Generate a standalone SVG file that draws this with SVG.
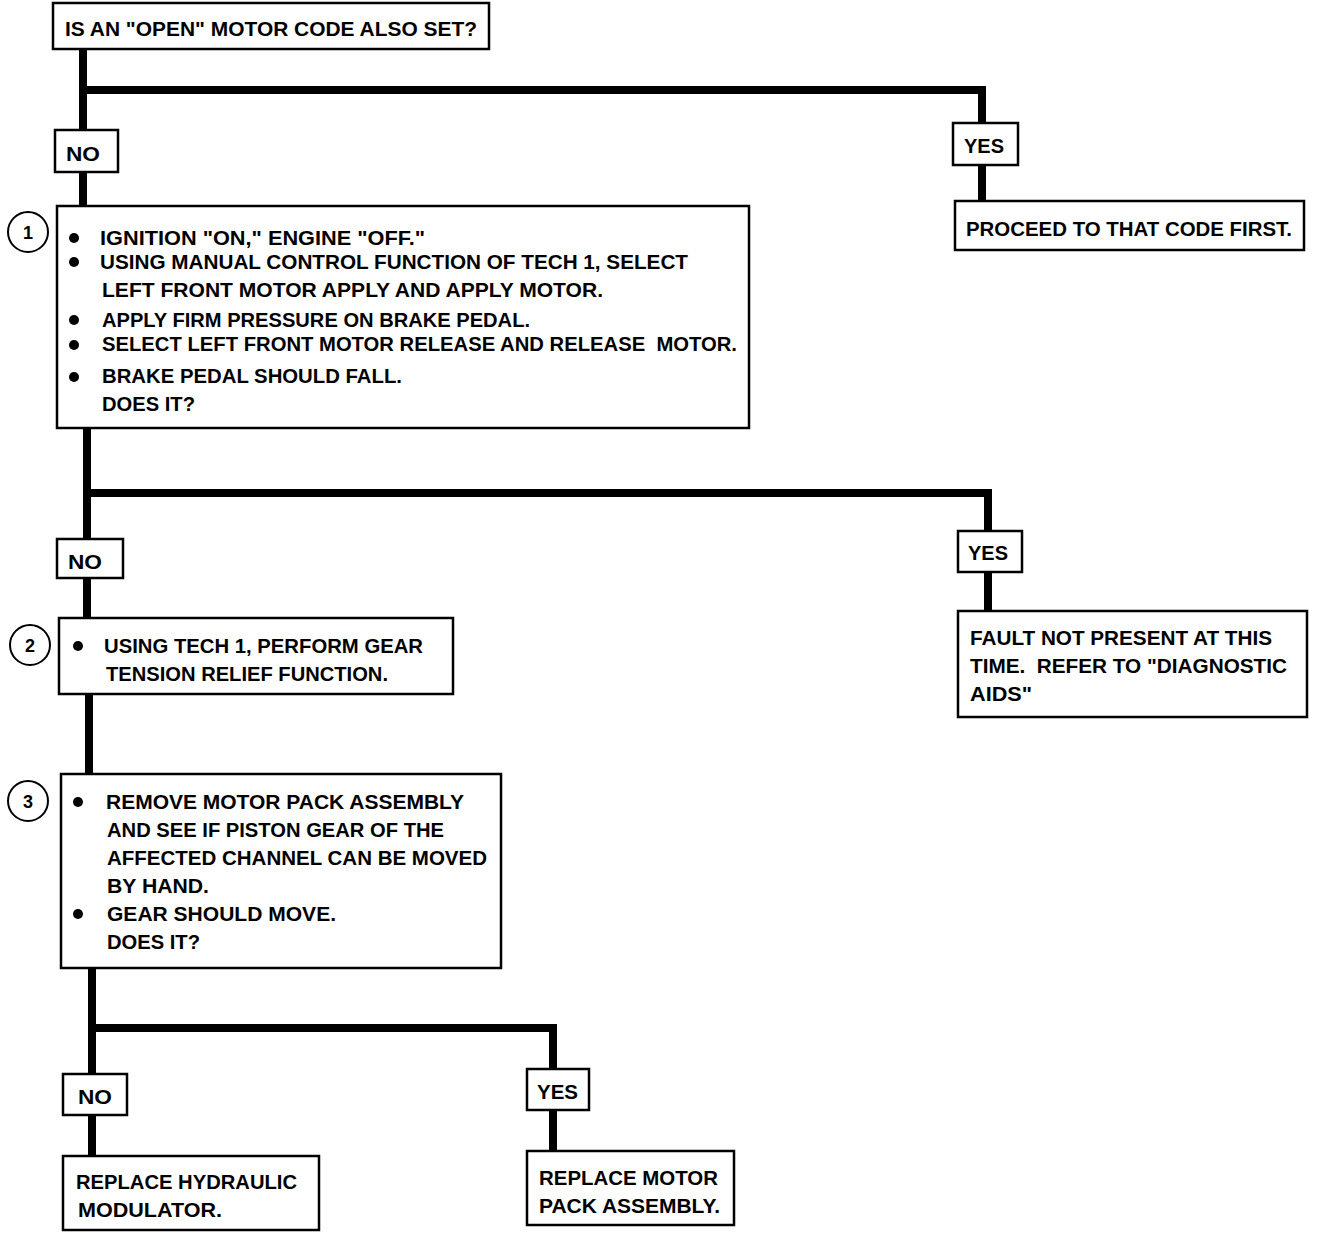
<svg xmlns="http://www.w3.org/2000/svg" width="1328" height="1234" viewBox="0 0 1328 1234">
<style>
.box{fill:#fff;stroke:#000;stroke-width:2.5}
.num{fill:#fff;stroke:#000;stroke-width:2}
.t{font-family:"Liberation Sans",Arial,sans-serif;font-weight:bold;font-size:20px;fill:#000}
.n{font-family:"Liberation Sans",Arial,sans-serif;font-weight:bold;font-size:18px;fill:#000;text-anchor:middle}
.c{fill:none;stroke:#000;stroke-width:8;stroke-linejoin:miter;stroke-linecap:butt}
.b{fill:#000}
</style>
<rect width="1328" height="1234" fill="#fff"/>
<g id="connectors">
<path class="c" d="M83 49V130"/>
<path class="c" d="M83 90H982V123"/>
<path class="c" d="M83 172V207"/>
<path class="c" d="M982 165V201"/>
<path class="c" d="M87 428V539"/>
<path class="c" d="M87 493H988V531"/>
<path class="c" d="M87 578V618"/>
<path class="c" d="M988 572V611"/>
<path class="c" d="M89 694V774"/>
<path class="c" d="M92 968V1074"/>
<path class="c" d="M92 1028H553V1069"/>
<path class="c" d="M92 1115V1156"/>
<path class="c" d="M553 1110V1151"/>
</g>
<g id="q0">
<rect class="box" x="53" y="3" width="436" height="46"/>
<text class="t" x="65" y="36" textLength="412" lengthAdjust="spacingAndGlyphs">IS AN "OPEN" MOTOR CODE ALSO SET?</text>
</g>
<g id="no1">
<rect class="box" x="55" y="130" width="63" height="42"/>
<text class="t" x="66" y="161" textLength="34" lengthAdjust="spacingAndGlyphs">NO</text>
</g>
<g id="yes1">
<rect class="box" x="953" y="123" width="65" height="42"/>
<text class="t" x="964" y="153" textLength="40" lengthAdjust="spacingAndGlyphs">YES</text>
</g>
<g id="proceed">
<rect class="box" x="955" y="201" width="349" height="49"/>
<text class="t" x="966" y="236" textLength="326" lengthAdjust="spacingAndGlyphs">PROCEED TO THAT CODE FIRST.</text>
</g>
<g id="step1">
<circle class="num" cx="28" cy="232" r="20"/>
<text class="n" x="28" y="239">1</text>
<rect class="box" x="57" y="206" width="692" height="222"/>
<circle class="b" cx="74" cy="238" r="5"/>
<circle class="b" cx="74" cy="262" r="5"/>
<circle class="b" cx="74" cy="320" r="5"/>
<circle class="b" cx="74" cy="345" r="5"/>
<circle class="b" cx="74" cy="377" r="5"/>
<text class="t" x="100" y="245" textLength="325" lengthAdjust="spacingAndGlyphs">IGNITION "ON," ENGINE "OFF."</text>
<text class="t" x="100" y="269" textLength="588" lengthAdjust="spacingAndGlyphs">USING MANUAL CONTROL FUNCTION OF TECH 1, SELECT</text>
<text class="t" x="102" y="297" textLength="501" lengthAdjust="spacingAndGlyphs">LEFT FRONT MOTOR APPLY AND APPLY MOTOR.</text>
<text class="t" x="102" y="327" textLength="428" lengthAdjust="spacingAndGlyphs">APPLY FIRM PRESSURE ON BRAKE PEDAL.</text>
<text class="t" x="102" y="351" textLength="635" lengthAdjust="spacingAndGlyphs" xml:space="preserve">SELECT LEFT FRONT MOTOR RELEASE AND RELEASE  MOTOR.</text>
<text class="t" x="102" y="383" textLength="300" lengthAdjust="spacingAndGlyphs">BRAKE PEDAL SHOULD FALL.</text>
<text class="t" x="102" y="411" textLength="93" lengthAdjust="spacingAndGlyphs">DOES IT?</text>
</g>
<g id="no2">
<rect class="box" x="57" y="539" width="66" height="39"/>
<text class="t" x="68" y="569" textLength="34" lengthAdjust="spacingAndGlyphs">NO</text>
</g>
<g id="yes2">
<rect class="box" x="958" y="531" width="64" height="41"/>
<text class="t" x="968" y="560" textLength="40" lengthAdjust="spacingAndGlyphs">YES</text>
</g>
<g id="fault">
<rect class="box" x="958" y="611" width="349" height="106"/>
<text class="t" x="970" y="645" textLength="302" lengthAdjust="spacingAndGlyphs">FAULT NOT PRESENT AT THIS</text>
<text class="t" x="970" y="673" textLength="317" lengthAdjust="spacingAndGlyphs" xml:space="preserve">TIME.  REFER TO "DIAGNOSTIC</text>
<text class="t" x="970" y="701" textLength="62" lengthAdjust="spacingAndGlyphs">AIDS"</text>
</g>
<g id="step2">
<circle class="num" cx="30" cy="645" r="20"/>
<text class="n" x="30" y="652">2</text>
<rect class="box" x="59" y="618" width="394" height="76"/>
<circle class="b" cx="78" cy="646" r="5"/>
<text class="t" x="104" y="653" textLength="319" lengthAdjust="spacingAndGlyphs">USING TECH 1, PERFORM GEAR</text>
<text class="t" x="106" y="681" textLength="282" lengthAdjust="spacingAndGlyphs">TENSION RELIEF FUNCTION.</text>
</g>
<g id="step3">
<circle class="num" cx="28" cy="801" r="20"/>
<text class="n" x="28" y="808">3</text>
<rect class="box" x="61" y="774" width="440" height="194"/>
<circle class="b" cx="78" cy="802" r="5"/>
<circle class="b" cx="78" cy="914" r="5"/>
<text class="t" x="106" y="809" textLength="358" lengthAdjust="spacingAndGlyphs">REMOVE MOTOR PACK ASSEMBLY</text>
<text class="t" x="107" y="837" textLength="337" lengthAdjust="spacingAndGlyphs">AND SEE IF PISTON GEAR OF THE</text>
<text class="t" x="107" y="865" textLength="380" lengthAdjust="spacingAndGlyphs">AFFECTED CHANNEL CAN BE MOVED</text>
<text class="t" x="107" y="893" textLength="102" lengthAdjust="spacingAndGlyphs">BY HAND.</text>
<text class="t" x="107" y="921" textLength="229" lengthAdjust="spacingAndGlyphs">GEAR SHOULD MOVE.</text>
<text class="t" x="107" y="949" textLength="93" lengthAdjust="spacingAndGlyphs">DOES IT?</text>
</g>
<g id="no3">
<rect class="box" x="63" y="1074" width="64" height="41"/>
<text class="t" x="78" y="1104" textLength="34" lengthAdjust="spacingAndGlyphs">NO</text>
</g>
<g id="yes3">
<rect class="box" x="527" y="1069" width="62" height="41"/>
<text class="t" x="537" y="1099" textLength="41" lengthAdjust="spacingAndGlyphs">YES</text>
</g>
<g id="hydraulic">
<rect class="box" x="63" y="1156" width="256" height="74"/>
<text class="t" x="76" y="1189" textLength="221" lengthAdjust="spacingAndGlyphs">REPLACE HYDRAULIC</text>
<text class="t" x="78" y="1217" textLength="144" lengthAdjust="spacingAndGlyphs">MODULATOR.</text>
</g>
<g id="motorpack">
<rect class="box" x="527" y="1151" width="207" height="74"/>
<text class="t" x="539" y="1185" textLength="179" lengthAdjust="spacingAndGlyphs">REPLACE MOTOR</text>
<text class="t" x="539" y="1213" textLength="181" lengthAdjust="spacingAndGlyphs">PACK ASSEMBLY.</text>
</g>
</svg>
